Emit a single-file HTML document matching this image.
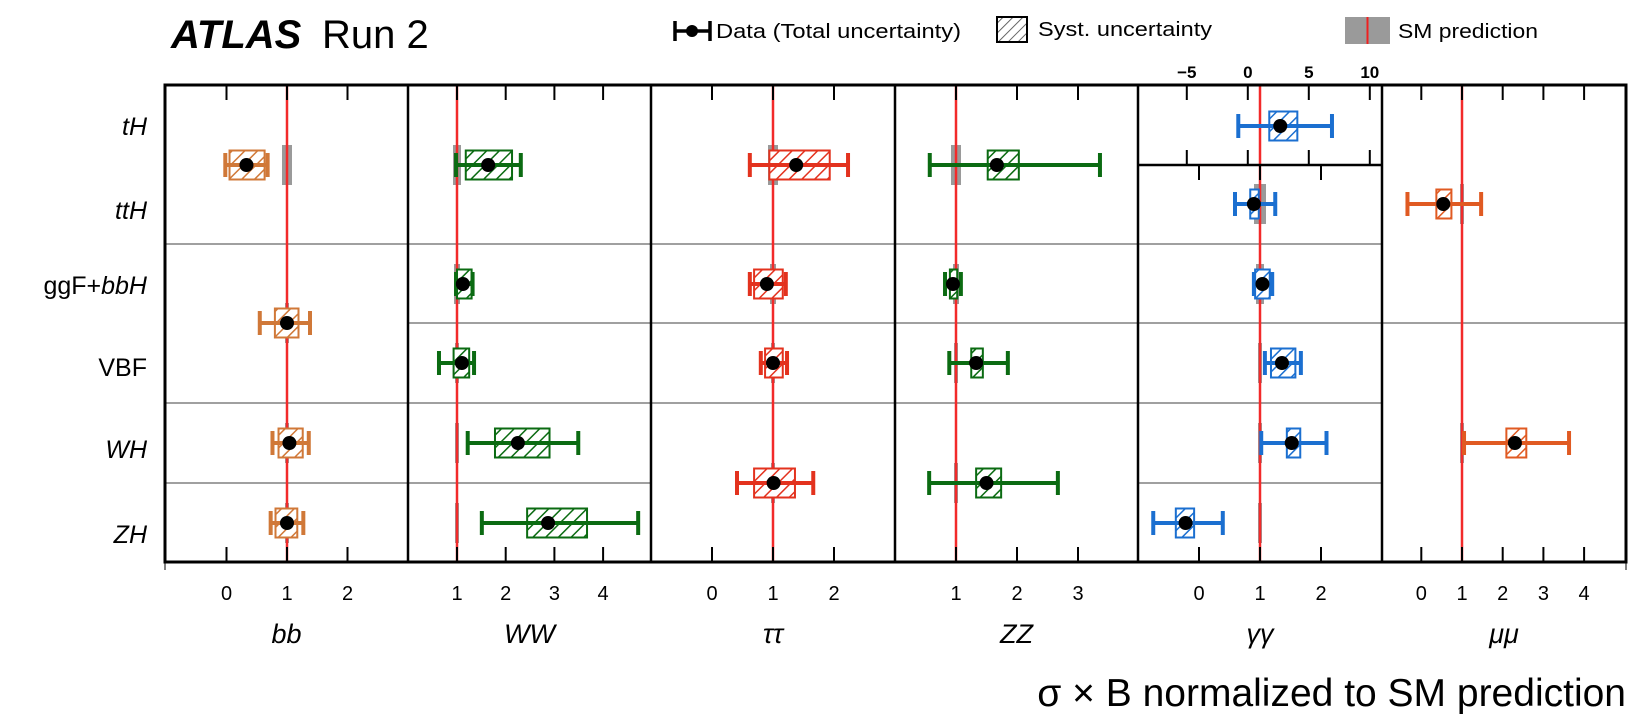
<!DOCTYPE html>
<html><head><meta charset="utf-8"><style>
html,body{margin:0;padding:0;background:#fff;}
svg{display:block;font-family:"Liberation Sans",sans-serif;}
</style></head><body>
<svg id="chart" width="1642" height="724" viewBox="0 0 1642 724" xmlns="http://www.w3.org/2000/svg">
<defs>
<pattern id="h-bb" patternUnits="userSpaceOnUse" width="9" height="9" patternTransform="rotate(45)"><rect width="9" height="9" fill="#fff"/><line x1="0" y1="0" x2="0" y2="9" stroke="#d07838" stroke-width="3"/></pattern>
<pattern id="h-WW" patternUnits="userSpaceOnUse" width="9" height="9" patternTransform="rotate(45)"><rect width="9" height="9" fill="#fff"/><line x1="0" y1="0" x2="0" y2="9" stroke="#0b6b12" stroke-width="3"/></pattern>
<pattern id="h-tt" patternUnits="userSpaceOnUse" width="9" height="9" patternTransform="rotate(45)"><rect width="9" height="9" fill="#fff"/><line x1="0" y1="0" x2="0" y2="9" stroke="#e3321e" stroke-width="3"/></pattern>
<pattern id="h-ZZ" patternUnits="userSpaceOnUse" width="9" height="9" patternTransform="rotate(45)"><rect width="9" height="9" fill="#fff"/><line x1="0" y1="0" x2="0" y2="9" stroke="#0b6b12" stroke-width="3"/></pattern>
<pattern id="h-gg" patternUnits="userSpaceOnUse" width="9" height="9" patternTransform="rotate(45)"><rect width="9" height="9" fill="#fff"/><line x1="0" y1="0" x2="0" y2="9" stroke="#1b6fd0" stroke-width="3"/></pattern>
<pattern id="h-mm" patternUnits="userSpaceOnUse" width="9" height="9" patternTransform="rotate(45)"><rect width="9" height="9" fill="#fff"/><line x1="0" y1="0" x2="0" y2="9" stroke="#e05a22" stroke-width="3"/></pattern>
<pattern id="h-leg" patternUnits="userSpaceOnUse" width="7" height="7" patternTransform="rotate(45)"><rect width="7" height="7" fill="#fff"/><line x1="0" y1="0" x2="0" y2="7" stroke="#555" stroke-width="1.8"/></pattern>
</defs>
<g id="root"></g>
</svg>
<script>
// ---- data (values normalized to SM) ----
const bbCats   = ['tH+ttH','ggF+VBF','WH','ZH'];
const bbVal    = [0.33, 1.00, 1.04, 1.00];
const bbSysLo  = [0.05, 0.80, 0.86, 0.81];
const bbSysHi  = [0.63, 1.19, 1.26, 1.17];
const bbTotLo  = [-0.02, 0.55, 0.76, 0.73];
const bbTotHi  = [0.68, 1.38, 1.36, 1.27];

const wwCats   = ['tH+ttH','ggF','VBF','WH','ZH'];
const wwVal    = [1.64, 1.12, 1.10, 2.25, 2.87];
const wwSysLo  = [1.18, 1.00, 0.93, 1.78, 2.44];
const wwSysHi  = [2.13, 1.30, 1.25, 2.90, 3.67];
const wwTotLo  = [0.98, 0.98, 0.63, 1.22, 1.51];
const wwTotHi  = [2.31, 1.32, 1.35, 3.49, 4.72];

const ttCats   = ['tH+ttH','ggF','VBF','WH+ZH'];
const ttVal    = [1.38, 0.90, 1.00, 1.01];
const ttSysLo  = [0.94, 0.69, 0.87, 0.69];
const ttSysHi  = [1.93, 1.16, 1.16, 1.36];
const ttTotLo  = [0.62, 0.62, 0.80, 0.41];
const ttTotHi  = [2.23, 1.21, 1.23, 1.66];

const zzCats   = ['tH+ttH','ggF','VBF','WH+ZH'];
const zzVal    = [1.67, 0.95, 1.33, 1.50];
const zzSysLo  = [1.52, 0.90, 1.25, 1.33];
const zzSysHi  = [2.03, 1.02, 1.44, 1.74];
const zzTotLo  = [0.57, 0.82, 0.89, 0.56];
const zzTotHi  = [3.36, 1.08, 1.85, 2.67];

const ggCats   = ['tH','ttH','ggF','VBF','WH','ZH'];
const ggVal    = [2.66, 0.90, 1.04, 1.36, 1.52, -0.22];
const ggSysLo  = [1.76, 0.84, 0.92, 1.18, 1.44, -0.38];
const ggSysHi  = [4.06, 0.98, 1.16, 1.58, 1.66, -0.08];
const ggTotLo  = [-0.78, 0.59, 0.90, 1.08, 1.02, -0.75];
const ggTotHi  = [6.90, 1.25, 1.20, 1.67, 2.09, 0.39];

const mmCats   = ['ttH','WH'];
const mmVal    = [0.54, 2.30];
const mmSysLo  = [0.37, 2.09];
const mmSysHi  = [0.74, 2.58];
const mmTotLo  = [-0.34, 1.05];
const mmTotHi  = [1.47, 3.63];

const bbTicks = [0,1,2];
const wwTicks = [1,2,3,4];
const ttTicks = [0,1,2];
const zzTicks = [1,2,3];
const ggTicks = [0,1,2];
const ggTopTicks = [-5,0,5,10];
const mmTicks = [0,1,2,3,4];
const rowLabels = ['tH','ttH','ggF+bbH','VBF','WH','ZH'];

// ---- layout ----
const NS='http://www.w3.org/2000/svg';
const root=document.getElementById('root');
function mk(tag,attrs,parent){const e=document.createElementNS(NS,tag);for(const k in attrs)e.setAttribute(k,attrs[k]);(parent||root).appendChild(e);return e;}
const TOP=85,BOT=562,LEFT=165,RIGHT=1626,MID=165;
const slotY={'tH':126,'ttH':204,'tH+ttH':165,'ggF':284,'VBF':363,'ggF+VBF':323,'WH':443,'ZH':523,'WH+ZH':483};

const panels=[
 {key:'bb',title:'bb',x0:165,x1:408,one:287,ppu:60.5,color:'#d07838',pat:'h-bb',cats:bbCats,val:bbVal,sl:bbSysLo,sh:bbSysHi,tl:bbTotLo,th:bbTotHi,ticks:bbTicks,grid:[244,403,483],sm:[[165,5],[323,2],[443,2],[523,2]]},
 {key:'WW',title:'WW',x0:408,x1:651,one:457,ppu:48.7,color:'#0b6b12',pat:'h-WW',cats:wwCats,val:wwVal,sl:wwSysLo,sh:wwSysHi,tl:wwTotLo,th:wwTotHi,ticks:wwTicks,grid:[244,323,403,483],sm:[[165,4],[284,3],[363,2],[443,2],[523,2]]},
 {key:'tautau',title:'ττ',x0:651,x1:895,one:773,ppu:61,color:'#e3321e',pat:'h-tt',cats:ttCats,val:ttVal,sl:ttSysLo,sh:ttSysHi,tl:ttTotLo,th:ttTotHi,ticks:ttTicks,grid:[244,323,403],sm:[[165,5],[284,3],[363,2],[483,2]]},
 {key:'ZZ',title:'ZZ',x0:895,x1:1138,one:956,ppu:61,color:'#0b6b12',pat:'h-ZZ',cats:zzCats,val:zzVal,sl:zzSysLo,sh:zzSysHi,tl:zzTotLo,th:zzTotHi,ticks:zzTicks,grid:[244,323,403],sm:[[165,5],[284,3],[363,2],[483,2]]},
 {key:'gamgam',title:'γγ',x0:1138,x1:1382,one:1260,ppu:61,color:'#1b6fd0',pat:'h-gg',cats:ggCats,val:ggVal,sl:ggSysLo,sh:ggSysHi,tl:ggTotLo,th:ggTotHi,ticks:ggTicks,grid:[244,323,403,483],sm:[[204,6],[284,4],[363,2],[443,2],[523,2]]},
 {key:'mumu',title:'μμ',x0:1382,x1:1626,one:1462,ppu:40.7,color:'#e05a22',pat:'h-mm',cats:mmCats,val:mmVal,sl:mmSysLo,sh:mmSysHi,tl:mmTotLo,th:mmTotHi,ticks:mmTicks,grid:[323],sm:[[204,2],[443,2]]}
];

// header
let t=mk('text',{x:171,y:48,'font-size':40,'font-weight':'bold','font-style':'italic'});t.textContent='ATLAS';


t=mk('text',{x:322,y:48,'font-size':40});t.textContent='Run 2';



// legend
const lg=mk('g',{});


mk('line',{x1:675,y1:31,x2:710,y2:31,stroke:'#000','stroke-width':3.5},lg);
mk('line',{x1:675,y1:21,x2:675,y2:41,stroke:'#000','stroke-width':3.5},lg);
mk('line',{x1:710,y1:21,x2:710,y2:41,stroke:'#000','stroke-width':3.5},lg);
mk('circle',{cx:692,cy:31,r:6,fill:'#000'},lg);
t=mk('text',{x:716,y:38,'font-size':20,textLength:245,lengthAdjust:'spacingAndGlyphs'},lg);t.textContent='Data (Total uncertainty)';


mk('rect',{x:997,y:17,width:30,height:25,fill:'url(#h-leg)',stroke:'#000','stroke-width':2},lg);
t=mk('text',{x:1038,y:36,'font-size':20,textLength:174,lengthAdjust:'spacingAndGlyphs'},lg);t.textContent='Syst. uncertainty';


mk('rect',{x:1345,y:17,width:45,height:27,fill:'#9a9a9a'},lg);
mk('line',{x1:1367.5,y1:17,x2:1367.5,y2:44,stroke:'#f02020','stroke-width':2},lg);
t=mk('text',{x:1398,y:38,'font-size':20,textLength:140,lengthAdjust:'spacingAndGlyphs'},lg);t.textContent='SM prediction';



// row labels
const labelY=[126,210,285,367,449,534];
rowLabels.forEach((r,i)=>{
  const tx=mk('text',{x:147,y:labelY[i]+9,'font-size':25,'text-anchor':'end'});
  
  
  if(r==='ggF+bbH'){
    const a=mk('tspan',{},tx);a.textContent='ggF+';
    const b=mk('tspan',{'font-style':'italic'},tx);b.textContent='bbH';
  } else {
    if(r!=='VBF') tx.setAttribute('font-style','italic');
    tx.textContent=r;
  }
});

function drawPoint(g,p,y,i,scaleOne,ppu){
  const X=v=>scaleOne+(v-1)*ppu;
  const c=p.color;
  const bw=X(p.sh[i])-X(p.sl[i]);
  const box=mk('rect',{x:X(p.sl[i]),y:y-14.5,width:Math.max(bw,3),height:29,fill:'url(#'+p.pat+')',stroke:c,'stroke-width':2},g);
  
  
  const ln=mk('line',{x1:X(p.tl[i]),y1:y,x2:X(p.th[i]),y2:y,stroke:c,'stroke-width':4},g);
  
  
  mk('line',{x1:X(p.tl[i]),y1:y-12,x2:X(p.tl[i]),y2:y+12,stroke:c,'stroke-width':4},g);
  mk('line',{x1:X(p.th[i]),y1:y-12,x2:X(p.th[i]),y2:y+12,stroke:c,'stroke-width':4},g);
  const dot=mk('circle',{cx:X(p.val[i]),cy:y,r:7,fill:'#000'},g);
  
  
}

panels.forEach(p=>{
  const g=mk('g',{});
  
  
  const X=v=>p.one+(v-1)*p.ppu;
  p.grid.forEach(y=>mk('line',{x1:p.x0,y1:y,x2:p.x1,y2:y,stroke:'#a0a0a0','stroke-width':2},g));
  p.sm.forEach(s=>mk('rect',{x:p.one-s[1],y:s[0]-20,width:s[1]*2,height:40,fill:'#9a9a9a'},g));
  const rl=mk('line',{x1:p.one,y1:(p.key==='gamgam'?MID:TOP),x2:p.one,y2:BOT,stroke:'#f22a2a','stroke-width':2.5},g);
  
  
  if(p.key==='gamgam') mk('line',{x1:p.one,y1:TOP,x2:p.one,y2:MID,stroke:'#f22a2a','stroke-width':2.5},g);
  p.ticks.forEach(v=>{
    const x=X(v);
    mk('line',{x1:x,y1:BOT,x2:x,y2:BOT-15,stroke:'#000','stroke-width':2},g);
    if(p.key!=='gamgam') mk('line',{x1:x,y1:TOP,x2:x,y2:TOP+15,stroke:'#000','stroke-width':2},g);
    else mk('line',{x1:x,y1:MID,x2:x,y2:MID+15,stroke:'#000','stroke-width':2},g);
    const tl=mk('text',{x:x,y:600,'font-size':20,'text-anchor':'middle'},g);
    tl.textContent=String(v);
    
    
  });
  const ti=mk('text',{x:(p.x0+p.x1)/2,y:643,'font-size':27,'font-style':'italic','text-anchor':'middle'},g);
  ti.textContent=p.title;
  
  
  p.cats.forEach((c,i)=>{
    if(p.key==='gamgam'&&c==='tH') drawPoint(g,p,slotY[c],i,1260,12.2);
    else drawPoint(g,p,slotY[c],i,p.one,p.ppu);
  });
});

// gamma-gamma top scale
ggTopTicks.forEach(v=>{
  const x=1260+(v-1)*12.2;
  mk('line',{x1:x,y1:TOP,x2:x,y2:TOP+15,stroke:'#000','stroke-width':2});
  mk('line',{x1:x,y1:MID,x2:x,y2:MID-15,stroke:'#000','stroke-width':2});
  const tl=mk('text',{x:x,y:78,'font-size':17,'font-weight':'bold','text-anchor':'middle'});
  tl.textContent=(v<0?'\u2212'+(-v):String(v));
  
  
});
mk('line',{x1:1138,y1:MID,x2:1382,y2:MID,stroke:'#000','stroke-width':2.5});

// frame & dividers
const fr=mk('rect',{x:LEFT,y:TOP,width:RIGHT-LEFT,height:BOT-TOP,fill:'none',stroke:'#000','stroke-width':3});


[408,651,895,1138,1382].forEach(x=>mk('line',{x1:x,y1:TOP,x2:x,y2:BOT,stroke:'#000','stroke-width':2.5}));
mk('line',{x1:LEFT,y1:BOT,x2:LEFT,y2:570,stroke:'#000','stroke-width':1});
mk('line',{x1:RIGHT,y1:BOT,x2:RIGHT,y2:570,stroke:'#000','stroke-width':1});

// x-axis title
t=mk('text',{x:1626,y:706,'font-size':39,'text-anchor':'end'});t.textContent='σ × B normalized to SM prediction';


</script>
</body></html>
